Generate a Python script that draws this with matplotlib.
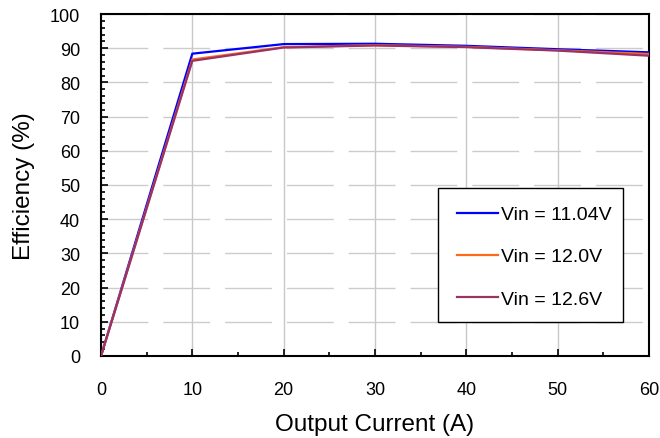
import matplotlib.pyplot as plt
from matplotlib.ticker import MultipleLocator
from matplotlib.patches import Rectangle

plt.rcParams['font.family'] = ['Liberation Sans', 'DejaVu Sans']

current = [0, 10, 20, 30, 40, 50, 60]
eff_1104 = [0, 88.4, 91.2, 91.3, 90.7, 89.7, 88.8]
eff_120 = [0, 86.7, 90.3, 90.9, 90.4, 89.4, 88.3]
eff_126 = [0, 86.3, 90.2, 90.8, 90.3, 89.3, 87.8]
labels = ['Vin = 11.04V', 'Vin = 12.0V', 'Vin = 12.6V']
colors = ['#0000FF', '#FF6A1A', '#993366']

W, H = 660, 439
fig = plt.figure(figsize=(6.6, 4.39), dpi=100)
ax = fig.add_axes([101/W, 1 - 357/H, 548/W, 342/H])

for y, lab, c in zip([eff_1104, eff_120, eff_126], labels, colors):
    ax.plot(current, y, color=c, lw=1.6, label=lab, zorder=3)

ax.set_xlim(0, 60)
ax.set_ylim(0, 100)
ax.xaxis.set_major_locator(MultipleLocator(10))
ax.xaxis.set_minor_locator(MultipleLocator(5))
ax.yaxis.set_major_locator(MultipleLocator(10))
ax.yaxis.set_minor_locator(MultipleLocator(2))
ax.tick_params(which='both', direction='in', labelsize=13, width=1.2)
ax.tick_params(which='major', length=5)
ax.tick_params(which='minor', length=3)
ax.tick_params(axis='x', which='major', pad=18)
ax.tick_params(axis='y', which='major', pad=15)

ax.xaxis.grid(True, color='#c8c8c8', lw=1)
ax.yaxis.grid(True, color='#cccccc', lw=1, linestyle=(0, (33.7, 10.8)))
ax.set_axisbelow(True)
for s in ax.spines.values():
    s.set_linewidth(1.5)

ax.set_xlabel('Output Current (A)', fontsize=17.5)
ax.set_ylabel('Efficiency (%)', fontsize=17.5)
ax.xaxis.set_label_coords(0.5, -0.168)
ax.yaxis.set_label_coords(-0.121, 0.5)

# legend, frame drawn separately to match the box
leg = ax.legend(loc='upper left', bbox_to_anchor=(447/W, 1 - 197/H),
                bbox_transform=fig.transFigure, fontsize=14, frameon=False,
                handlelength=2.1, labelspacing=1.26, borderpad=0,
                handletextpad=0.18)
leg.set_zorder(6)
box = Rectangle((438/W, 1 - 323/H), 185/W, 134/H,
                transform=fig.transFigure, facecolor='white',
                edgecolor='black', lw=1.0, zorder=5)
ax.add_patch(box)

fig.savefig('out.png', dpi=100)
